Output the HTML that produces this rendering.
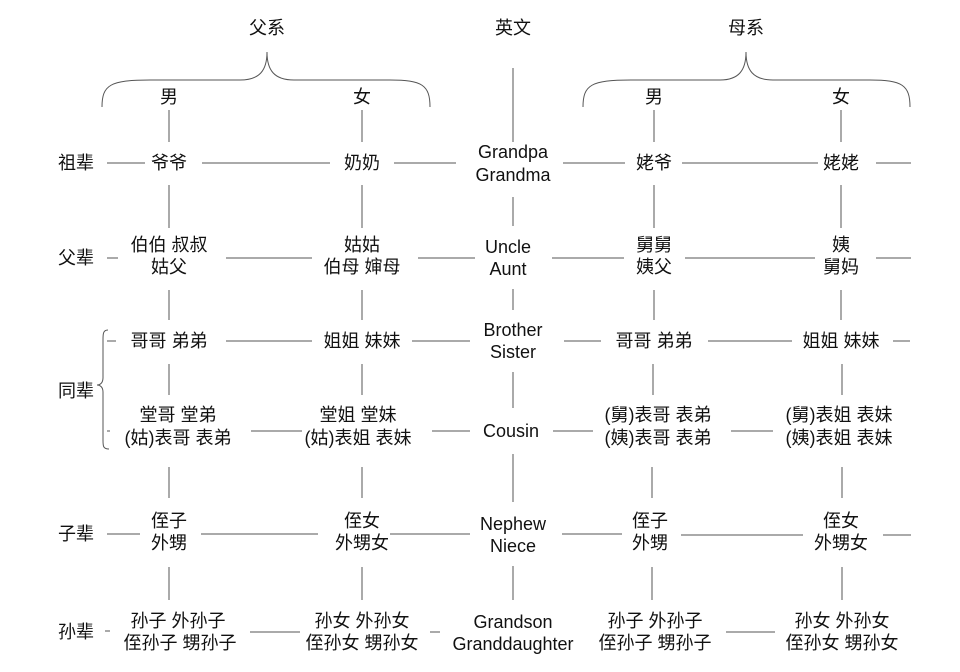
<!DOCTYPE html>
<html><head><meta charset="utf-8"><style>
html,body{margin:0;padding:0;background:#fff;}
svg{display:block;}
text{font-family:"Liberation Sans","Noto Sans CJK SC",sans-serif;font-size:18px;fill:#111;text-anchor:middle;}
line,path{stroke:#555;stroke-width:1;fill:none;}
</style></head><body>
<svg width="960" height="672" viewBox="0 0 960 672">
<text x="267" y="34">父系</text>
<text x="513" y="34">英文</text>
<text x="746" y="34">母系</text>
<path d="M102 107 C102 85 110 80 150 80 L240 80 C260 80 267 70 267 52 C267 70 274 80 294 80 L390 80 C422 80 430 85 430 107"/>
<path d="M583 107 C583 85 591 80 631 80 L720 80 C739 80 746 70 746 52 C746 70 753 80 773 80 L870 80 C902 80 910 85 910 107"/>
<text x="169" y="103">男</text><text x="362" y="103">女</text>
<text x="654" y="103">男</text><text x="841" y="103">女</text>
<text x="76" y="169">祖辈</text>
<text x="76" y="264">父辈</text>
<text x="76" y="397">同辈</text>
<text x="76" y="540">子辈</text>
<text x="76" y="638">孙辈</text>
<path d="M108 330 C103 330 103 334 103 340 L103 378 C103 383 100 385 97 385 C100 385 103 387 103 392 L103 440 C103 446 103 449 109 449"/>
<text x="169" y="169">爷爷</text><text x="362" y="169">奶奶</text>
<text x="513" y="158">Grandpa</text><text x="513" y="181">Grandma</text>
<text x="654" y="169">姥爷</text><text x="841" y="169">姥姥</text>
<text x="169" y="251">伯伯 叔叔</text><text x="169" y="273">姑父</text>
<text x="362" y="251">姑姑</text><text x="362" y="273">伯母 婶母</text>
<text x="508" y="253">Uncle</text><text x="508" y="275">Aunt</text>
<text x="654" y="251">舅舅</text><text x="654" y="273">姨父</text>
<text x="841" y="251">姨</text><text x="841" y="273">舅妈</text>
<text x="169" y="347">哥哥 弟弟</text><text x="362" y="347">姐姐 妹妹</text>
<text x="513" y="336">Brother</text><text x="513" y="358">Sister</text>
<text x="654" y="347">哥哥 弟弟</text><text x="841" y="347">姐姐 妹妹</text>
<text x="178" y="421">堂哥 堂弟</text><text x="178" y="444">(姑)表哥 表弟</text>
<text x="358" y="421">堂姐 堂妹</text><text x="358" y="444">(姑)表姐 表妹</text>
<text x="511" y="437">Cousin</text>
<text x="658" y="421">(舅)表哥 表弟</text><text x="658" y="444">(姨)表哥 表弟</text>
<text x="839" y="421">(舅)表姐 表妹</text><text x="839" y="444">(姨)表姐 表妹</text>
<text x="169" y="527">侄子</text><text x="169" y="549">外甥</text>
<text x="362" y="527">侄女</text><text x="362" y="549">外甥女</text>
<text x="513" y="530">Nephew</text><text x="513" y="552">Niece</text>
<text x="650" y="527">侄子</text><text x="650" y="549">外甥</text>
<text x="841" y="527">侄女</text><text x="841" y="549">外甥女</text>
<text x="178" y="627">孙子 外孙子</text><text x="180" y="649">侄孙子 甥孙子</text>
<text x="362" y="627">孙女 外孙女</text><text x="362" y="649">侄孙女 甥孙女</text>
<text x="513" y="628">Grandson</text><text x="513" y="650">Granddaughter</text>
<text x="655" y="627">孙子 外孙子</text><text x="655" y="649">侄孙子 甥孙子</text>
<text x="842" y="627">孙女 外孙女</text><text x="842" y="649">侄孙女 甥孙女</text>
<g>
<line x1="169" y1="110" x2="169" y2="142"/><line x1="362" y1="110" x2="362" y2="142"/>
<line x1="654" y1="110" x2="654" y2="142"/><line x1="841" y1="110" x2="841" y2="142"/>
<line x1="513" y1="68" x2="513" y2="142"/>
<line x1="169" y1="185" x2="169" y2="228"/><line x1="362" y1="185" x2="362" y2="228"/>
<line x1="654" y1="185" x2="654" y2="228"/><line x1="841" y1="185" x2="841" y2="228"/>
<line x1="513" y1="197" x2="513" y2="226"/>
<line x1="169" y1="290" x2="169" y2="320"/><line x1="362" y1="290" x2="362" y2="320"/>
<line x1="654" y1="290" x2="654" y2="320"/><line x1="841" y1="290" x2="841" y2="320"/>
<line x1="513" y1="289" x2="513" y2="310"/>
<line x1="169" y1="364" x2="169" y2="395"/><line x1="362" y1="364" x2="362" y2="395"/>
<line x1="653" y1="364" x2="653" y2="395"/><line x1="842" y1="364" x2="842" y2="395"/>
<line x1="513" y1="372" x2="513" y2="408"/>
<line x1="169" y1="467" x2="169" y2="498"/><line x1="362" y1="467" x2="362" y2="498"/>
<line x1="652" y1="467" x2="652" y2="498"/><line x1="842" y1="467" x2="842" y2="498"/>
<line x1="513" y1="454" x2="513" y2="502"/>
<line x1="169" y1="567" x2="169" y2="600"/><line x1="362" y1="567" x2="362" y2="600"/>
<line x1="652" y1="567" x2="652" y2="600"/><line x1="842" y1="567" x2="842" y2="600"/>
<line x1="513" y1="566" x2="513" y2="600"/>
</g>
<g>
<line x1="107" y1="163" x2="145" y2="163"/><line x1="202" y1="163" x2="330" y2="163"/>
<line x1="394" y1="163" x2="456" y2="163"/><line x1="563" y1="163" x2="625" y2="163"/>
<line x1="682" y1="163" x2="818" y2="163"/><line x1="876" y1="163" x2="911" y2="163"/>
<line x1="107" y1="258" x2="118" y2="258"/><line x1="226" y1="258" x2="312" y2="258"/>
<line x1="418" y1="258" x2="475" y2="258"/><line x1="552" y1="258" x2="624" y2="258"/>
<line x1="685" y1="258" x2="815" y2="258"/><line x1="876" y1="258" x2="911" y2="258"/>
<line x1="107" y1="341" x2="116" y2="341"/><line x1="226" y1="341" x2="312" y2="341"/>
<line x1="412" y1="341" x2="470" y2="341"/><line x1="564" y1="341" x2="601" y2="341"/>
<line x1="708" y1="341" x2="792" y2="341"/><line x1="893" y1="341" x2="910" y2="341"/>
<line x1="107" y1="431" x2="110" y2="431"/><line x1="251" y1="431" x2="302" y2="431"/>
<line x1="432" y1="431" x2="470" y2="431"/><line x1="553" y1="431" x2="593" y2="431"/>
<line x1="731" y1="431" x2="773" y2="431"/>
<line x1="107" y1="534" x2="140" y2="534"/><line x1="201" y1="534" x2="318" y2="534"/>
<line x1="390" y1="534" x2="470" y2="534"/><line x1="562" y1="534" x2="622" y2="534"/>
<line x1="681" y1="535" x2="803" y2="535"/><line x1="883" y1="535" x2="911" y2="535"/>
<line x1="105" y1="631" x2="110" y2="631"/><line x1="250" y1="632" x2="300" y2="632"/>
<line x1="430" y1="632" x2="440" y2="632"/>
<line x1="726" y1="632" x2="775" y2="632"/>
</g>
</svg>
</body></html>
